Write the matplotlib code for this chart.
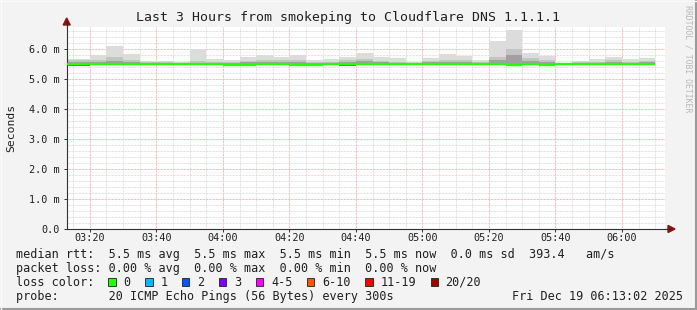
import matplotlib
matplotlib.use("Agg")
import matplotlib.pyplot as plt
import matplotlib.dates as mdates
from matplotlib.patches import Rectangle, Polygon
from datetime import datetime, timedelta

# ---------------- data ----------------
title = "Last 3 Hours from smokeping to Cloudflare DNS 1.1.1.1"
t_start = datetime(2025, 12, 19, 3, 13, 2)
t_end = datetime(2025, 12, 19, 6, 13, 2)
first_bar_end = datetime(2025, 12, 19, 3, 20)
step_min = 5

# per 5-minute bar (end times 03:20 ... 06:10), values in ms
rtt_max = [5.68, 5.80, 6.10, 5.83, 5.61, 5.59, 5.57, 5.99, 5.68, 5.63,
           5.74, 5.80, 5.74, 5.80, 5.63, 5.66, 5.72, 5.88, 5.72, 5.69,
           5.56, 5.69, 5.83, 5.78, 5.63, 6.25, 6.63, 5.87, 5.78, 5.52,
           5.61, 5.68, 5.74, 5.67, 5.71]
rtt_q80 = [5.62, 5.62, 5.72, 5.62, 5.56, 5.55, 5.54, 5.60, 5.58, 5.56,
           5.60, 5.64, 5.63, 5.64, 5.57, 5.58, 5.63, 5.66, 5.61, 5.58,
           5.53, 5.59, 5.64, 5.63, 5.56, 5.72, 6.00, 5.70, 5.63, 5.51,
           5.56, 5.58, 5.63, 5.58, 5.61]
rtt_q65 = [5.56, 5.55, 5.60, 5.56, 5.53, 5.52, 5.52, 5.54, 5.53, 5.53,
           5.55, 5.57, 5.57, 5.58, 5.53, 5.54, 5.57, 5.59, 5.56, 5.54,
           5.51, 5.55, 5.58, 5.57, 5.53, 5.63, 5.80, 5.60, 5.56, 5.50,
           5.53, 5.54, 5.57, 5.54, 5.56]
rtt_median = [5.49, 5.49, 5.50, 5.49, 5.49, 5.49, 5.49, 5.49, 5.49, 5.48,
              5.48, 5.49, 5.49, 5.48, 5.48, 5.49, 5.50, 5.49, 5.49, 5.49,
              5.50, 5.49, 5.49, 5.49, 5.49, 5.49, 5.48, 5.49, 5.48, 5.50,
              5.49, 5.49, 5.50, 5.49, 5.49]
rtt_min = [5.43, 5.47, 5.48, 5.47, 5.47, 5.47, 5.47, 5.47, 5.47, 5.46,
           5.46, 5.47, 5.47, 5.46, 5.46, 5.47, 5.44, 5.47, 5.47, 5.47,
           5.48, 5.45, 5.45, 5.47, 5.47, 5.47, 5.46, 5.45, 5.46, 5.48,
           5.47, 5.47, 5.48, 5.47, 5.47]

y_ticks = [0, 1, 2, 3, 4, 5, 6]
y_tick_labels = ["0.0", "1.0 m", "2.0 m", "3.0 m", "4.0 m", "5.0 m", "6.0 m"]
y_top = 6.73

legend_rtt = "median rtt:  5.5 ms avg  5.5 ms max  5.5 ms min  5.5 ms now  0.0 ms sd  393.4   am/s"
legend_loss = "packet loss: 0.00 % avg  0.00 % max  0.00 % min  0.00 % now"
loss_labels = ["0", "1", "2", "3", "4-5", "6-10", "11-19", "20/20"]
loss_colors = ["#26ff00", "#00b8ff", "#0059ff", "#7e00ff", "#ff00ff", "#ff5500", "#ff0000", "#a10000"]
probe_text = "probe:       20 ICMP Echo Pings (56 Bytes) every 300s"
date_text = "Fri Dec 19 06:13:02 2025"
watermark = "RRDTOOL / TOBI OETIKER"

# ---------------- figure ----------------
W, H = 697, 310
fig = plt.figure(figsize=(W / 100, H / 100), dpi=100)
fig.patch.set_facecolor("#f3f3f3")
MONO = "DejaVu Sans Mono"

ax_l, ax_r, ax_t, ax_b = 66.7, 665.3, 27.0, 229.0
ax = fig.add_axes([ax_l / W, 1 - ax_b / H, (ax_r - ax_l) / W, (ax_b - ax_t) / H])
ax.set_facecolor("white")
ax.set_xlim(mdates.date2num(t_start), mdates.date2num(t_end))
ax.set_ylim(0, y_top)

# grid
minor_col = "#d8d8d8"
major_col = "#f0a0a0"
dot = (0, (0.72, 0.72))
t = datetime(2025, 12, 19, 3, 15)
while t < t_end:
    x = mdates.date2num(t)
    is_major = (t.minute % 20 == 0)
    ax.axvline(x, color=major_col if is_major else minor_col, lw=0.72, ls=dot, zorder=1)
    t += timedelta(minutes=5)
v = 0.2
while v < y_top:
    is_major = abs(v - round(v)) < 1e-6
    ax.axhline(v, color=major_col if is_major else minor_col, lw=0.72, ls=dot, zorder=1)
    v = round(v + 0.2, 6)

# smoke + median
for i in range(len(rtt_max)):
    te = first_bar_end + timedelta(minutes=step_min * i)
    ts = t_start if i == 0 else te - timedelta(minutes=step_min)
    x0, x1 = mdates.date2num(ts), mdates.date2num(te)
    layers = [
        (rtt_min[i], rtt_max[i], "#dcdcdc"),
        (rtt_min[i], rtt_q80[i], "#c4c4c4"),
        (rtt_min[i] + 0.01, rtt_q65[i], "#a0a0a0"),
        (rtt_min[i], rtt_median[i], "#707070"),
    ]
    for lo, hi, c in layers:
        ax.fill_between([x0, x1], lo, hi, color=c, lw=0, zorder=2)
    ax.plot([x0, x1], [rtt_median[i]] * 2, color="#26ff00", lw=1.7,
            solid_capstyle="butt", zorder=3)

for s in ["top", "right"]:
    ax.spines[s].set_visible(False)
for s in ["left", "bottom"]:
    ax.spines[s].set_color("#303030")
    ax.spines[s].set_linewidth(0.8)

ax.set_yticks(y_ticks)
ax.set_yticklabels(y_tick_labels, fontsize=7.3, family=MONO, color="#202020")
ax.xaxis.set_major_locator(mdates.MinuteLocator(byminute=[0, 20, 40]))
ax.xaxis.set_major_formatter(mdates.DateFormatter("%H:%M"))
for lab in ax.get_xticklabels():
    lab.set_fontsize(7.3)
    lab.set_family(MONO)
    lab.set_color("#202020")
ax.tick_params(axis="both", length=2.0, width=0.7, color="#303030")
ax.tick_params(axis="y", pad=3)
ax.tick_params(axis="x", pad=1.2)

ax.set_ylabel("Seconds", fontsize=8.2, family=MONO, color="#202020")
ax.yaxis.set_label_coords(-(ax_l - 16) / (ax_r - ax_l), 0.5)

# axis extensions and arrows (figure pixel coords)
def fx(px):
    return px / W

def fy(py):
    return 1 - py / H

fig.add_artist(plt.Line2D([fx(ax_l), fx(ax_l)], [fy(ax_t), fy(21)], color="#303030", lw=0.8))
fig.add_artist(plt.Line2D([fx(ax_r), fx(670)], [fy(ax_b), fy(ax_b)], color="#303030", lw=0.8))
fig.add_artist(Polygon([[fx(ax_l - 3.5), fy(25)], [fx(ax_l + 3.5), fy(25)], [fx(ax_l), fy(18)]],
                       closed=True, color="#8b1010", transform=fig.transFigure))
fig.add_artist(Polygon([[fx(668), fy(ax_b - 3.5)], [fx(668), fy(ax_b + 3.5)], [fx(675), fy(ax_b)]],
                       closed=True, color="#8b1010", transform=fig.transFigure))

# title
fig.text(0.5, fy(18), title, ha="center", va="center", fontsize=9.5, family=MONO, color="#202020")
# watermark
fig.text(fx(688), fy(5), watermark, ha="center", va="top", rotation=-90,
         fontsize=5.9, family=MONO, color="#b8b8b8")

# legend
LFS = 8.5
fig.text(fx(16), fy(254.3), legend_rtt, ha="left", va="center", fontsize=LFS, family=MONO, color="#202020")
fig.text(fx(16), fy(268.3), legend_loss, ha="left", va="center", fontsize=LFS, family=MONO, color="#202020")
fig.text(fx(16), fy(282.3), "loss color:", ha="left", va="center", fontsize=LFS, family=MONO, color="#202020")
cw = 7.1
bx = 108.3
for lab, col in zip(loss_labels, loss_colors):
    fig.add_artist(Rectangle((fx(bx), fy(286.2)), 7.3 / W, 8.6 / H, transform=fig.transFigure,
                             facecolor=col, edgecolor="#202020", lw=0.6))
    tx = bx + 15
    fig.text(fx(tx), fy(282.3), lab, ha="left", va="center", fontsize=LFS, family=MONO, color="#202020")
    bx = tx + len(lab) * cw + 14.8
fig.text(fx(16), fy(296.3), probe_text, ha="left", va="center", fontsize=LFS, family=MONO, color="#202020")
fig.text(fx(683), fy(296.3), date_text, ha="right", va="center", fontsize=LFS, family=MONO, color="#202020")

# 3D frame border
fig.add_artist(plt.Line2D([0, 1], [fy(309), fy(309)], color="#9a9a9a", lw=1.5))
fig.add_artist(plt.Line2D([fx(696), fx(696)], [0, 1], color="#9a9a9a", lw=1.5))
fig.add_artist(plt.Line2D([0, 1], [fy(0.5), fy(0.5)], color="#fbfbfb", lw=1))
fig.add_artist(plt.Line2D([fx(0.5), fx(0.5)], [0, 1], color="#fbfbfb", lw=1))

fig.savefig("out.png", dpi=100, facecolor=fig.get_facecolor())
